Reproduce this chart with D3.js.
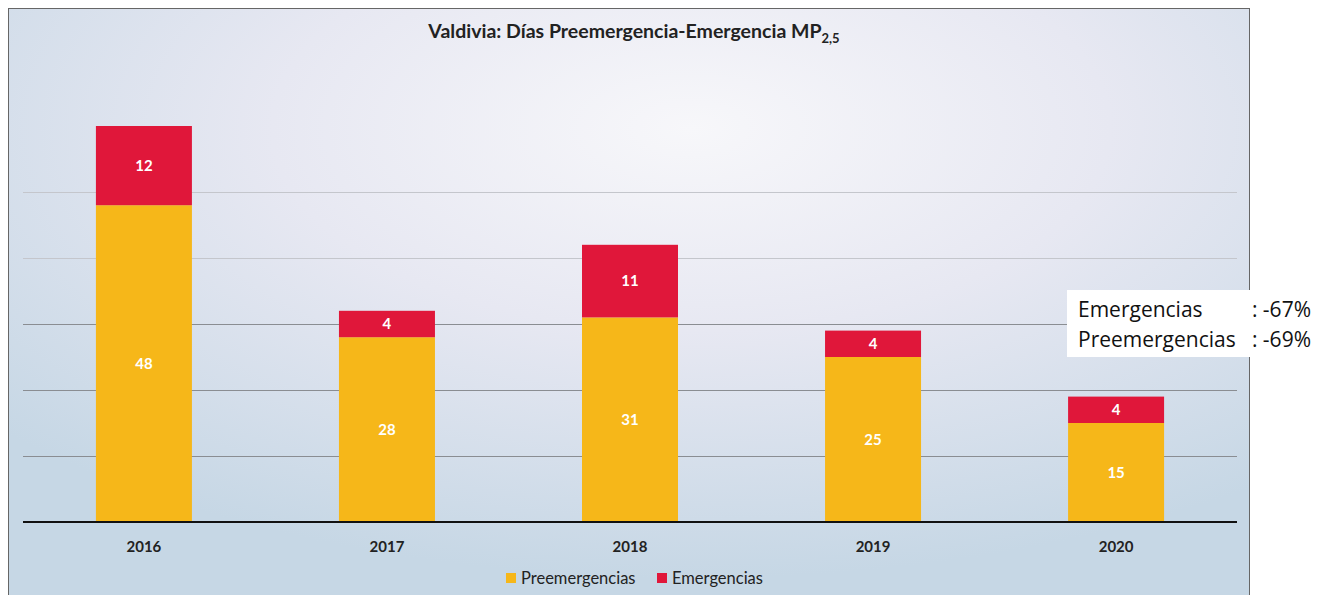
<!DOCTYPE html>
<html>
<head>
<meta charset="utf-8">
<script src="https://cdn.jsdelivr.net/npm/d3@7"></script>
<style>
  body { margin: 0; background: #fff; }
  svg { display: block; font-family: Lato, "Open Sans", sans-serif; }
</style>
</head>
<body>
<svg id="canvas" width="1325" height="595"></svg>
<script>
var years = ['2016', '2017', '2018', '2019', '2020'];
var preemergencias = [48, 28, 31, 25, 15];
var emergencias = [12, 4, 11, 4, 4];
var seriesNames = ['Preemergencias', 'Emergencias'];
var seriesColors = ['#f6b719', '#e0173a'];
var yTicks = [10, 20, 30, 40, 50];
var notes = [['Emergencias', ': -67%'], ['Preemergencias', ': -69%']];

var svg = d3.select('#canvas');

var rows = years.map(function(y, i) {
    return { year: y, Preemergencias: preemergencias[i], Emergencias: emergencias[i] };
});

// background panel with soft gradient like the scanned slide
var defs = svg.append('defs');
var grad = defs.append('radialGradient')
    .attr('id', 'bg')
    .attr('cx', '0.55').attr('cy', '0.2').attr('r', '0.75');
grad.append('stop').attr('offset', '0%').attr('stop-color', '#f7f7fa');
grad.append('stop').attr('offset', '45%').attr('stop-color', '#e7e8f2');
grad.append('stop').attr('offset', '100%').attr('stop-color', '#c6d7e5');

svg.append('rect')
    .attr('x', 8.5).attr('y', 8.5)
    .attr('width', 1241).attr('height', 600)
    .attr('fill', 'url(#bg)')
    .attr('stroke', '#666')
    .attr('stroke-width', 1);

var x = d3.scaleBand()
    .domain(years)
    .range([23, 1237])
    .paddingInner(0.605)
    .paddingOuter(0.3);

var y = d3.scaleLinear()
    .domain([0, 60])
    .range([522, 126]);

// gridlines
svg.append('g')
    .selectAll('line')
    .data(yTicks)
    .join('line')
    .attr('x1', 23).attr('x2', 1237)
    .attr('y1', function(d) { return Math.round(y(d)) + 0.5; })
    .attr('y2', function(d) { return Math.round(y(d)) + 0.5; })
    .attr('stroke', function(d) { return d > 35 ? '#c4c6cc' : '#8a8d92'; })
    .attr('stroke-width', 1);

var stack = d3.stack().keys(seriesNames)(rows);

var layers = svg.append('g')
    .selectAll('g')
    .data(stack)
    .join('g')
    .attr('fill', function(d, i) { return seriesColors[i]; });

layers.selectAll('rect')
    .data(function(d) { return d; })
    .join('rect')
    .attr('x', function(d) { return x(d.data.year); })
    .attr('width', x.bandwidth())
    .attr('y', function(d) { return y(d[1]); })
    .attr('height', function(d) { return y(d[0]) - y(d[1]); });

layers.selectAll('text')
    .data(function(d) { return d; })
    .join('text')
    .attr('x', function(d) { return x(d.data.year) + x.bandwidth() / 2; })
    .attr('y', function(d) { return (y(d[0]) + y(d[1])) / 2; })
    .attr('dy', '0.35em')
    .attr('text-anchor', 'middle')
    .attr('fill', '#fff')
    .attr('font-size', 15)
    .attr('font-weight', 'bold')
    .text(function(d) { return d[1] - d[0]; });

// baseline + year labels
var xAxis = svg.append('g')
    .attr('transform', 'translate(0,522)')
    .call(d3.axisBottom(x).tickSize(0).tickPadding(19));
xAxis.select('.domain').attr('stroke', '#111').attr('stroke-width', 2)
    .attr('d', 'M23,0H1237');
xAxis.selectAll('text')
    .attr('font-family', 'Lato, sans-serif')
    .attr('font-size', 15)
    .attr('font-weight', 'bold')
    .attr('fill', '#222');

// title
var title = svg.append('text')
    .attr('x', 634).attr('y', 38)
    .attr('text-anchor', 'middle')
    .attr('font-size', 19.5)
    .attr('font-weight', 'bold')
    .attr('fill', '#222');
title.append('tspan').text('Valdivia: Días Preemergencia-Emergencia MP');
title.append('tspan').attr('font-size', 13).attr('dy', 5).text('2,5');

// legend
var legend = svg.append('g')
    .selectAll('g')
    .data(seriesNames)
    .join('g')
    .attr('transform', function(d, i) { return 'translate(' + [506, 657][i] + ',578)'; });
legend.append('rect')
    .attr('x', 0).attr('y', -5)
    .attr('width', 10).attr('height', 10)
    .attr('fill', function(d, i) { return seriesColors[i]; });
legend.append('text')
    .attr('x', 15).attr('dy', '0.35em')
    .attr('font-size', 16.5)
    .attr('fill', '#222')
    .text(function(d) { return d; });

// annotation box
svg.append('rect')
    .attr('x', 1067).attr('y', 290)
    .attr('width', 183).attr('height', 67)
    .attr('fill', '#fff');
var noteRows = svg.append('g')
    .selectAll('g')
    .data(notes)
    .join('g')
    .attr('transform', function(d, i) { return 'translate(0,' + (317 + i * 30) + ')'; });
noteRows.append('text')
    .attr('x', 1078)
    .attr('font-family', '"Open Sans", sans-serif')
    .attr('font-size', 21)
    .attr('fill', '#111')
    .text(function(d) { return d[0]; });
noteRows.append('text')
    .attr('x', 1311)
    .attr('text-anchor', 'end')
    .attr('font-family', '"Open Sans", sans-serif')
    .attr('font-size', 21)
    .attr('fill', '#111')
    .text(function(d) { return d[1]; });
</script>
</body>
</html>
